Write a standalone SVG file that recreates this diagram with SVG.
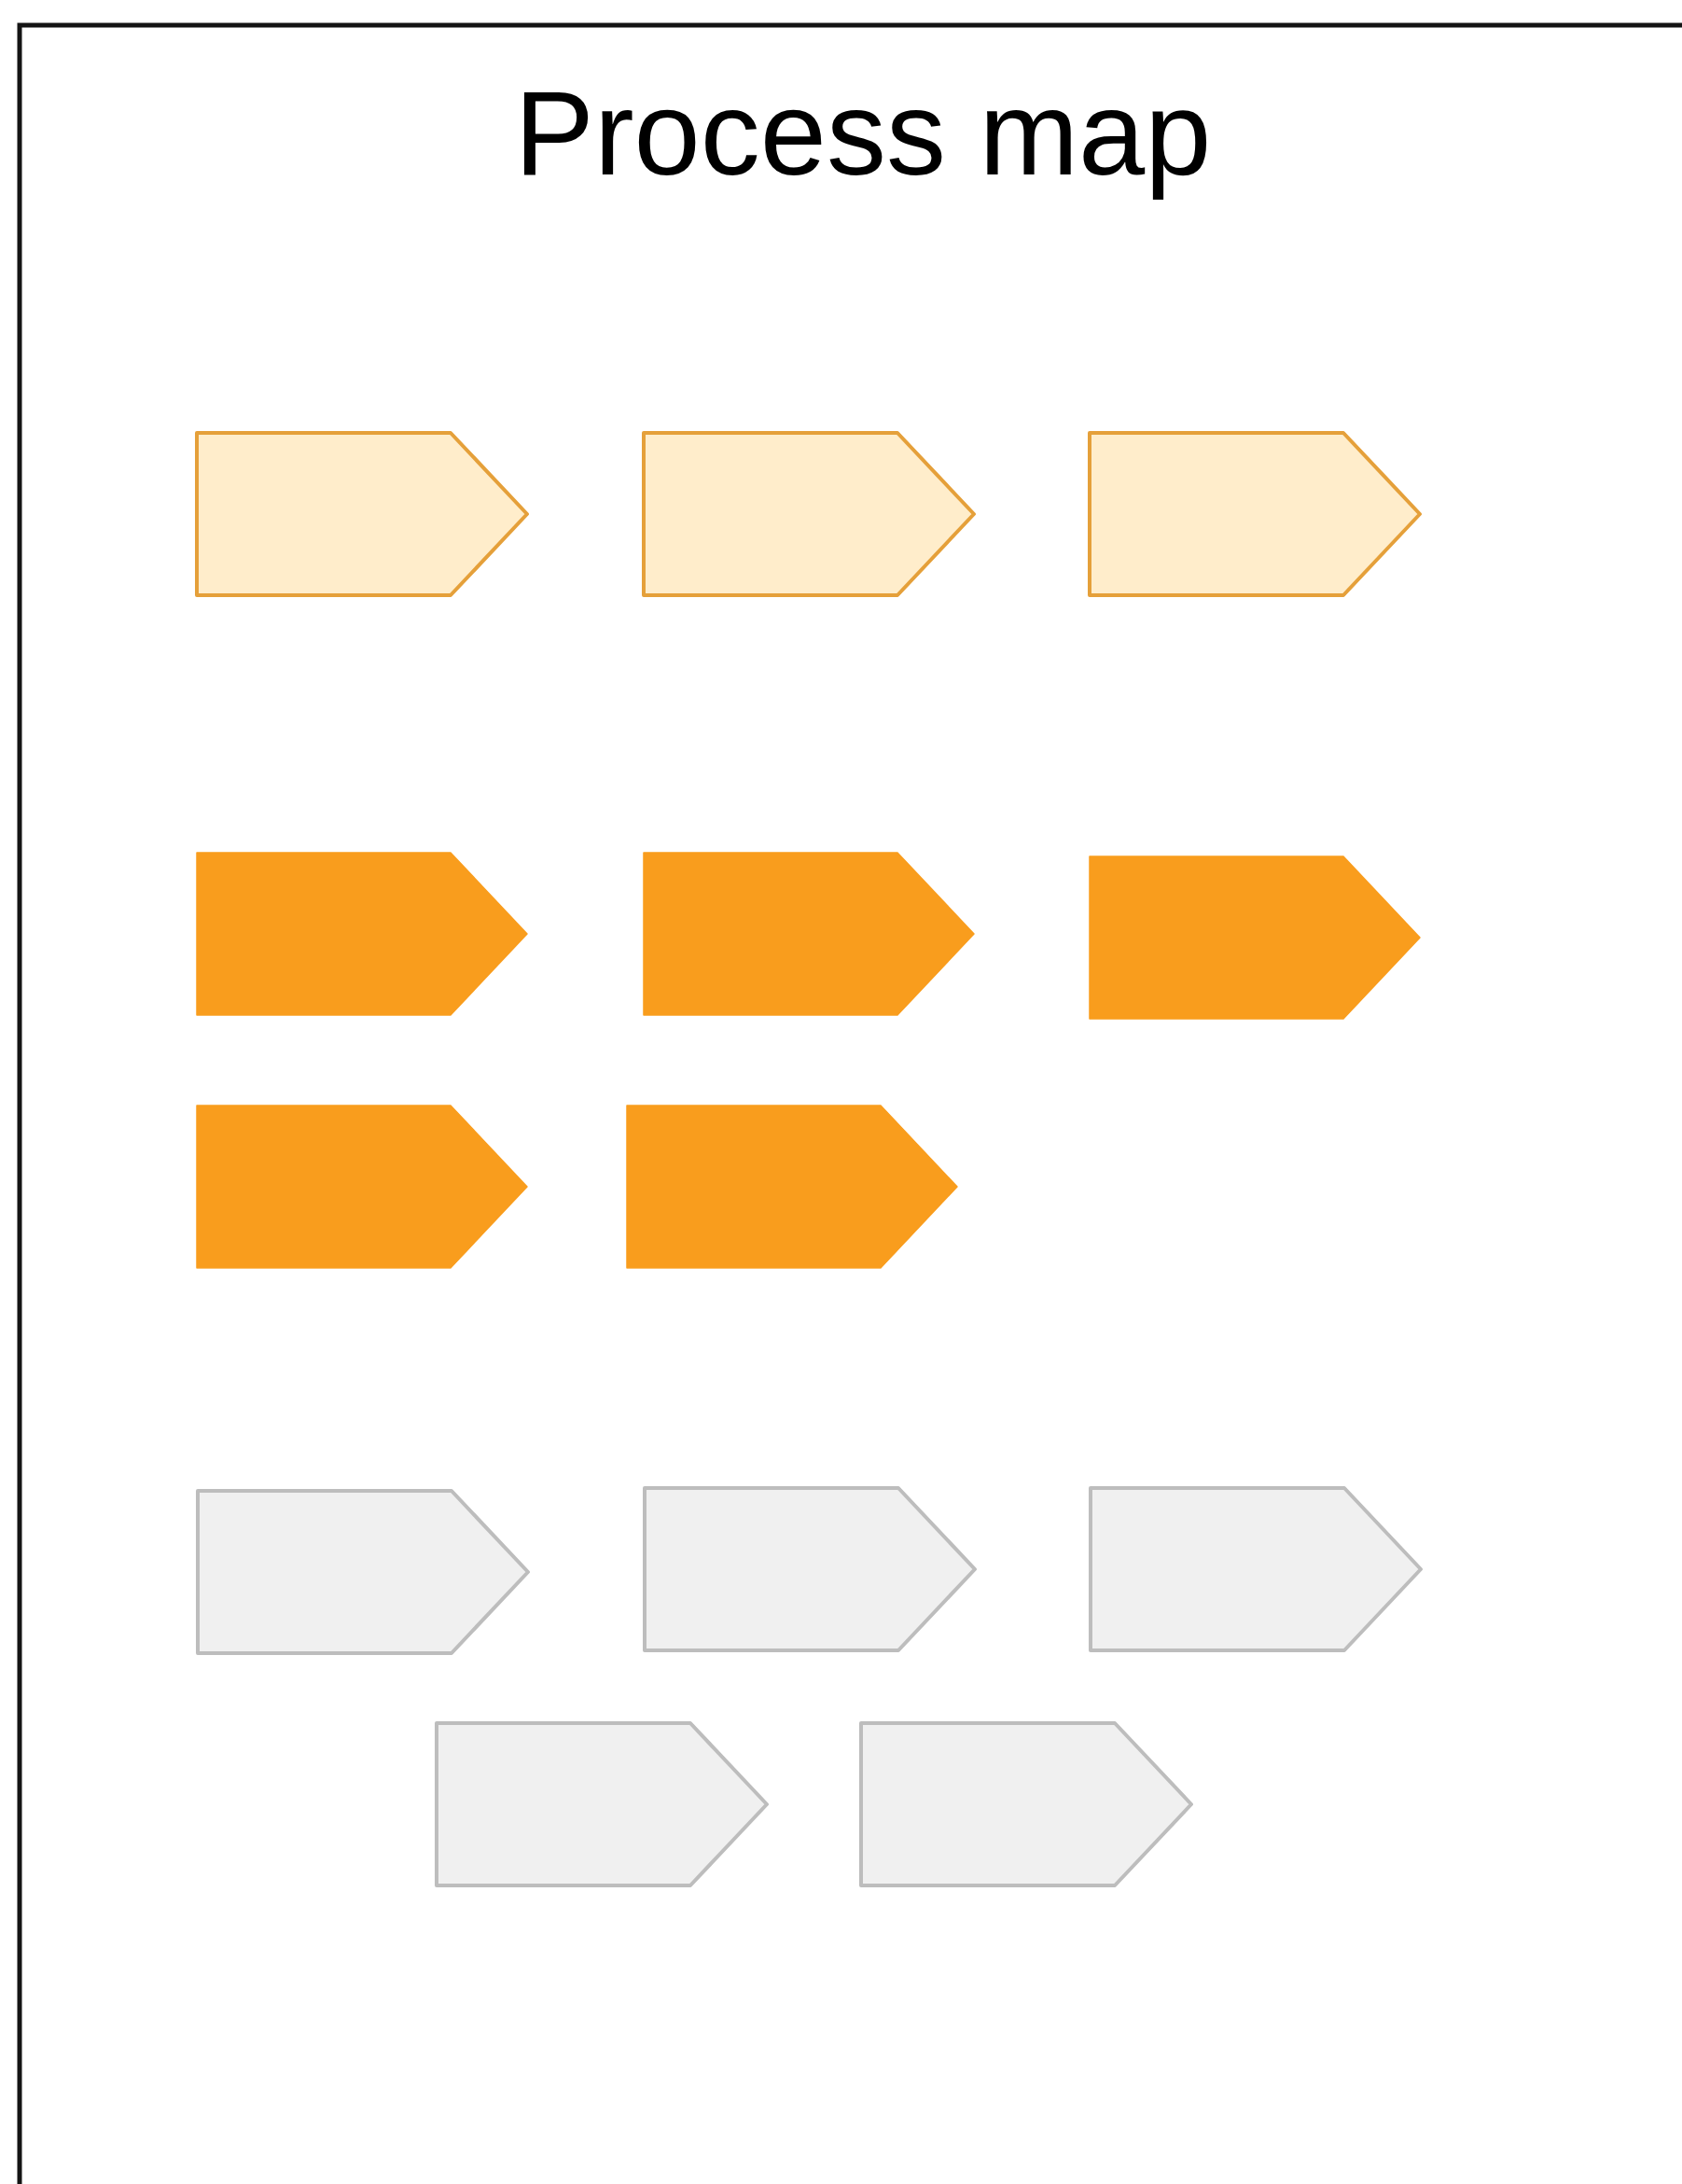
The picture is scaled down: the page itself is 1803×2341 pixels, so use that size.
<svg xmlns="http://www.w3.org/2000/svg" width="1803" height="2341" viewBox="0 0 1803 2341">
<style>
.frame{fill:none;stroke:#141414;stroke-width:5}
.title{font-family:"Liberation Sans",Arial,sans-serif;font-size:128px;fill:#000}
.light{fill:#FFEDCB;stroke:#E5A03A;stroke-width:4;stroke-linejoin:round}
.solid{fill:#F99D1D;stroke:#F99D1D;stroke-width:1.5;stroke-linejoin:round}
.gray{fill:#F0F0F0;stroke:#BDBDBD;stroke-width:4;stroke-linejoin:round}
</style>
<defs>
<path id="arrow" d="M0,0 H272 L354,87 L272,174 H0 Z"/>
</defs>
<rect width="1803" height="2341" fill="#fff"/>
<path class="frame" d="M21,2345 V27 H1810"/>
<text class="title" x="925" y="187" text-anchor="middle">Process map</text>
<g id="connectors"/>
<g id="n1"><use href="#arrow" class="light" x="211" y="464"/></g>
<g id="n2"><use href="#arrow" class="light" x="690" y="464"/></g>
<g id="n3"><use href="#arrow" class="light" x="1168" y="464"/></g>
<g id="n4"><use href="#arrow" class="solid" x="211" y="914"/></g>
<g id="n5"><use href="#arrow" class="solid" x="690" y="914"/></g>
<g id="n6"><use href="#arrow" class="solid" x="1168" y="918"/></g>
<g id="n7"><use href="#arrow" class="solid" x="211" y="1185"/></g>
<g id="n8"><use href="#arrow" class="solid" x="672" y="1185"/></g>
<g id="n9"><use href="#arrow" class="gray" x="212" y="1598"/></g>
<g id="n10"><use href="#arrow" class="gray" x="691" y="1595"/></g>
<g id="n11"><use href="#arrow" class="gray" x="1169" y="1595"/></g>
<g id="n12"><use href="#arrow" class="gray" x="468" y="1847"/></g>
<g id="n13"><use href="#arrow" class="gray" x="923" y="1847"/></g>
</svg>
